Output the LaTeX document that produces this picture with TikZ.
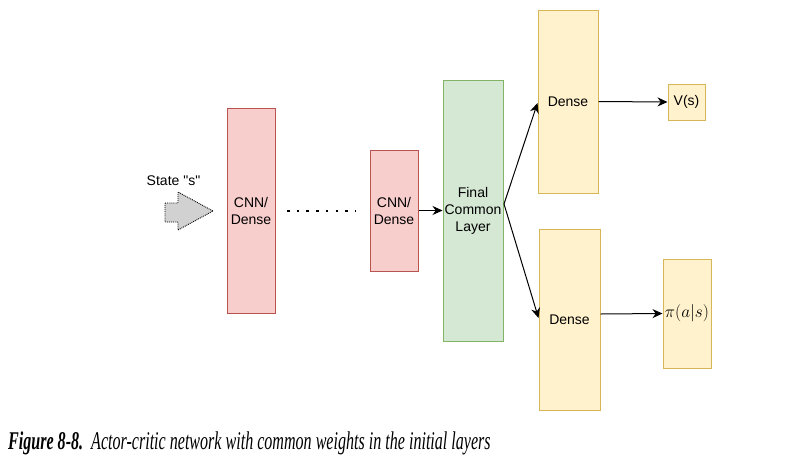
\documentclass[tikz,border=0pt]{standalone}
\usepackage{fontspec}
\setmainfont{Liberation Sans}
\newfontfamily\capfont{Liberation Serif}
\usetikzlibrary{arrows.meta}
\definecolor{redfill}{HTML}{F8CECC}
\definecolor{redline}{HTML}{B85450}
\definecolor{greenfill}{HTML}{D5E8D4}
\definecolor{greenline}{HTML}{82B366}
\definecolor{yelfill}{HTML}{FFF2CC}
\definecolor{yelline}{HTML}{D6B656}
\begin{document}
\begin{tikzpicture}[x=1pt,y=-1pt,
  lbl/.style={font=\fontsize{14}{17}\selectfont, align=center, inner sep=0pt},
  redbox/.style={draw=redline, fill=redfill, line width=1pt, lbl},
  greenbox/.style={draw=greenline, fill=greenfill, line width=1pt, lbl},
  yelbox/.style={draw=yelline, fill=yelfill, line width=1pt, lbl},
  conn/.style={-{Stealth[length=10pt,width=9pt]}, line width=1pt, black}]
\useasboundingbox (0,0) rectangle (810,469);
\node[redbox, minimum width=48pt, minimum height=205pt] (c1) at (251,210.5) {CNN/\\Dense};
\node[redbox, minimum width=48pt, minimum height=121pt] (c2) at (394,210.5) {CNN/\\Dense};
\node[greenbox, minimum width=60pt, minimum height=261pt] (f) at (473,210.5) {Final\\Common\\Layer};
\node[yelbox, minimum width=60pt, minimum height=183pt] (d1) at (568,101.5) {Dense};
\node[yelbox, minimum width=61pt, minimum height=181pt] (d2) at (569.5,319.5) {Dense};
\node[yelbox, minimum width=37pt, minimum height=36pt] (v) at (686.5,102) {V(s)};
\node[yelbox, minimum width=48pt, minimum height=109pt] (p) at (687,313.5) {\fontsize{17}{20}\selectfont$\pi(a|s)$};
% state arrow
\draw[densely dotted, fill=black!18, line width=0.9pt]
  (165,203) -- (178,203) -- (178,192) -- (213,211) -- (178,230) -- (178,222) -- (165,222) -- cycle;
\node[lbl, anchor=center] (st) at (173.5,181) {State \textquotedbl s\textquotedbl};
% dots
\coordinate (da) at (287,211);
\coordinate (db) at (356,211);
\draw[line width=2.6pt, dash pattern=on 2.6pt off 7.1pt] (da) -- (db);
% connectors
\coordinate (fo) at (504,204);
\draw[conn] (c2.east) -- (f.west);
\draw[conn] (fo) -- ([yshift=-1.5pt]d1.west);
\draw[conn] (fo) -- ([yshift=1.5pt]d2.west);
\draw[conn] (d1.east) -- (v.west);
\draw[conn] ([yshift=5.5pt]d2.east) -- (p.west);
% caption
\node[anchor=west, inner sep=0pt] (cap) at (8,443) {\scalebox{0.63}[1]{\capfont\fontsize{25.5}{30}\selectfont\textbf{\textit{Figure 8-8.}}\enspace\textit{Actor-critic network with common weights in the initial layers}}};
\end{tikzpicture}
\end{document}
